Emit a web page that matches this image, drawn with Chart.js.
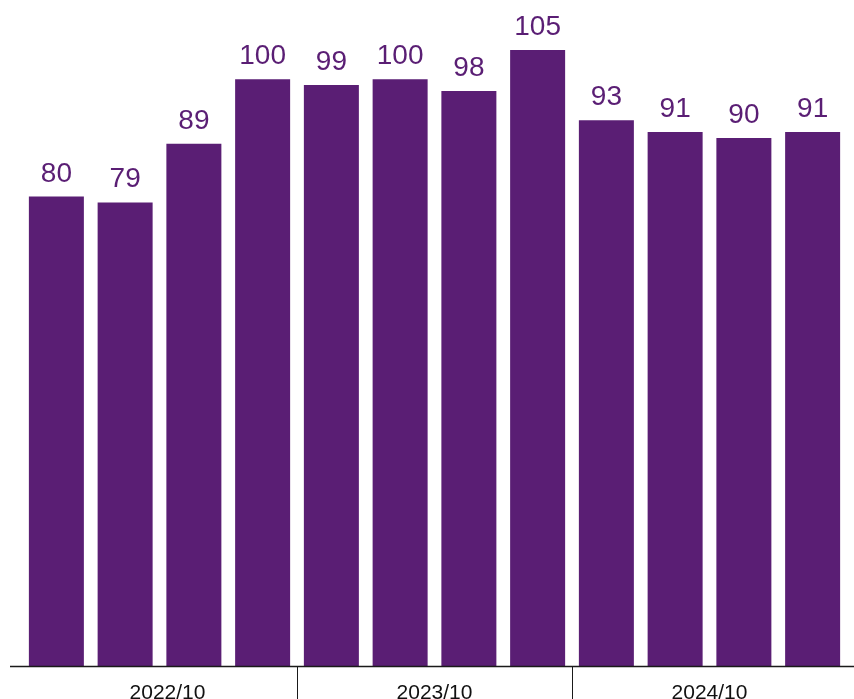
<!DOCTYPE html>
<html>
<head>
<meta charset="utf-8">
<script src="https://cdn.jsdelivr.net/npm/chart.js@4.4.1/dist/chart.umd.min.js"></script>
<style>
  html, body { margin: 0; padding: 0; background: #fff; }
  #wrap { width: 854px; height: 699px; position: relative; }
</style>
</head>
<body>
<div id="wrap"><canvas id="chart"></canvas></div>
<script>
// Chart data
const categories = ['1', '2', '3', '4', '5', '6', '7', '8', '9', '10', '11', '12'];
const values = [80, 79, 89, 100, 99, 100, 98, 105, 93, 91, 90, 91];
const groupLabels = ['2022/10', '2023/10', '2024/10'];
const groupSize = 4;

const barColor = '#5a1e74';
const fontFamily = '"Liberation Sans", Arial, sans-serif';

// Value labels above each bar
const valueLabels = {
    id: 'valueLabels',
    afterDatasetsDraw(chart) {
        const ctx = chart.ctx;
        const meta = chart.getDatasetMeta(0);
        ctx.save();
        ctx.fillStyle = barColor;
        ctx.font = '28px ' + fontFamily;
        ctx.textAlign = 'center';
        ctx.textBaseline = 'alphabetic';
        meta.data.forEach((bar, i) => {
            ctx.fillText(String(values[i]), bar.x, bar.y - 15);
        });
        ctx.restore();
    }
};

// Bottom axis line, group separators and group labels
const groupAxis = {
    id: 'groupAxis',
    afterDraw(chart) {
        const ctx = chart.ctx;
        const x = chart.scales.x;
        const bottom = chart.chartArea.bottom;
        const h = chart.height;
        ctx.save();
        ctx.strokeStyle = '#1a1a1a';
        ctx.lineWidth = 1.5;
        ctx.beginPath();
        ctx.moveTo(10, bottom + 0.5);
        ctx.lineTo(chart.width, bottom + 0.5);
        ctx.stroke();

        ctx.lineWidth = 1;
        for (let g = 1; g < groupLabels.length; g++) {
            const sx = Math.round((x.getPixelForValue(g * groupSize - 1) + x.getPixelForValue(g * groupSize)) / 2) + 0.5;
            ctx.beginPath();
            ctx.moveTo(sx, bottom);
            ctx.lineTo(sx, h);
            ctx.stroke();
        }

        ctx.fillStyle = '#111';
        ctx.font = '21px ' + fontFamily;
        ctx.textAlign = 'center';
        ctx.textBaseline = 'alphabetic';
        groupLabels.forEach((label, g) => {
            let cx = (x.getPixelForValue(g * groupSize) + x.getPixelForValue(g * groupSize + groupSize - 1)) / 2;
            if (g === 0) cx += 8; // first label sits a little right in the original
            ctx.fillText(label, cx, h - 0.5);
        });
        ctx.restore();
    }
};

document.addEventListener('DOMContentLoaded', () => {
    const ctx = document.getElementById('chart');
    new Chart(ctx, {
        type: 'bar',
        data: {
            labels: categories,
            datasets: [{
                data: values,
                backgroundColor: barColor,
                borderWidth: 0,
                barPercentage: 0.8,
                categoryPercentage: 1.0
            }]
        },
        options: {
            responsive: true,
            maintainAspectRatio: false,
            animation: false,
            layout: { padding: { left: 22, right: 7, top: 0, bottom: 33 } },
            plugins: {
                legend: { display: false },
                tooltip: { enabled: false }
            },
            scales: {
                x: { display: false },
                y: { display: false, min: 0, max: 113.5 }
            }
        },
        plugins: [valueLabels, groupAxis]
    });
});
</script>
</body>
</html>
